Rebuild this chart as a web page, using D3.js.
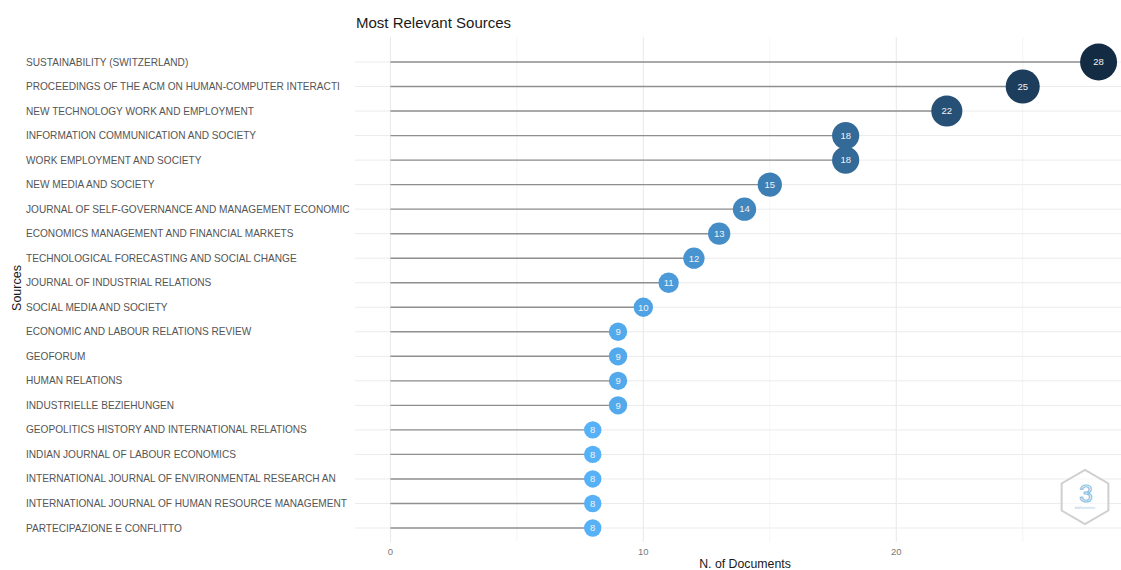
<!DOCTYPE html>
<html>
<head>
<meta charset="utf-8">
<script src="https://cdn.jsdelivr.net/npm/d3@7"></script>
<style>
  html, body { margin: 0; padding: 0; background: #fff; }
  svg { display: block; font-family: "Liberation Sans", Arial, sans-serif; }
</style>
</head>
<body>
<svg id="chart" width="1121" height="570"></svg>
<script>
const sources = [
  "SUSTAINABILITY (SWITZERLAND)",
  "PROCEEDINGS OF THE ACM ON HUMAN-COMPUTER INTERACTI",
  "NEW TECHNOLOGY WORK AND EMPLOYMENT",
  "INFORMATION COMMUNICATION AND SOCIETY",
  "WORK EMPLOYMENT AND SOCIETY",
  "NEW MEDIA AND SOCIETY",
  "JOURNAL OF SELF-GOVERNANCE AND MANAGEMENT ECONOMIC",
  "ECONOMICS MANAGEMENT AND FINANCIAL MARKETS",
  "TECHNOLOGICAL FORECASTING AND SOCIAL CHANGE",
  "JOURNAL OF INDUSTRIAL RELATIONS",
  "SOCIAL MEDIA AND SOCIETY",
  "ECONOMIC AND LABOUR RELATIONS REVIEW",
  "GEOFORUM",
  "HUMAN RELATIONS",
  "INDUSTRIELLE BEZIEHUNGEN",
  "GEOPOLITICS HISTORY AND INTERNATIONAL RELATIONS",
  "INDIAN JOURNAL OF LABOUR ECONOMICS",
  "INTERNATIONAL JOURNAL OF ENVIRONMENTAL RESEARCH AN",
  "INTERNATIONAL JOURNAL OF HUMAN RESOURCE MANAGEMENT",
  "PARTECIPAZIONE E CONFLITTO"
];
const documents = [28, 25, 22, 18, 18, 15, 14, 13, 12, 11, 10, 9, 9, 9, 9, 8, 8, 8, 8, 8];
const xMajorTicks = [0, 10, 20];
const xMinorTicks = [5, 15, 25];
const titleText = "Most Relevant Sources";
const xTitle = "N. of Documents";
const yTitle = "Sources";

const svg = d3.select("#chart");
const panel = { left: 355, right: 1134, top: 37, bottom: 542 };

const x = d3.scaleLinear().domain([-1.4, 29.4]).range([panel.left, panel.right]);
const y = d3.scalePoint().domain(sources).range([62, 528]);
const minV = d3.min(documents), maxV = d3.max(documents);
const r = d3.scaleLinear().domain([minV, maxV]).range([8.7, 18.5]);
const color = d3.scaleLinear().domain([minV, maxV]).range(["#56B1F7", "#132B43"]).interpolate(d3.interpolateLab);

const data = sources.map((s, i) => ({ s, v: documents[i] }));

svg.append("defs").append("clipPath").attr("id", "clip")
  .append("rect").attr("x", panel.left).attr("y", panel.top)
  .attr("width", panel.right - panel.left).attr("height", panel.bottom - panel.top);

const g = svg.append("g").attr("clip-path", "url(#clip)");

g.selectAll("line.minor").data(xMinorTicks).join("line")
  .attr("x1", d => x(d)).attr("x2", d => x(d))
  .attr("y1", panel.top).attr("y2", panel.bottom)
  .attr("stroke", "#f3f3f3").attr("stroke-width", 0.8);
g.selectAll("line.major").data(xMajorTicks).join("line")
  .attr("x1", d => x(d)).attr("x2", d => x(d))
  .attr("y1", panel.top).attr("y2", panel.bottom)
  .attr("stroke", "#e8e8e8").attr("stroke-width", 1);
g.selectAll("line.hgrid").data(sources).join("line")
  .attr("x1", panel.left).attr("x2", panel.right)
  .attr("y1", d => y(d)).attr("y2", d => y(d))
  .attr("stroke", "#ebebeb").attr("stroke-width", 1);

g.selectAll("line.stem").data(data).join("line")
  .attr("x1", x(0)).attr("x2", d => x(d.v))
  .attr("y1", d => y(d.s)).attr("y2", d => y(d.s))
  .attr("stroke", "#8f8f8f").attr("stroke-width", 1.4);

g.selectAll("circle.pt").data(data).join("circle")
  .attr("cx", d => x(d.v)).attr("cy", d => y(d.s))
  .attr("r", d => r(d.v))
  .attr("fill", d => color(d.v));

g.selectAll("text.pl").data(data).join("text")
  .attr("x", d => x(d.v)).attr("y", d => y(d.s))
  .attr("dy", "0.35em")
  .attr("text-anchor", "middle")
  .attr("font-size", 9.5)
  .attr("fill", "#f2f2f2")
  .text(d => d.v);

svg.selectAll("text.ylab").data(sources).join("text")
  .attr("x", 26).attr("y", d => y(d)).attr("dy", "0.35em")
  .attr("font-size", 10.1)
  .attr("fill", "#555555")
  .text(d => d);

svg.selectAll("text.xlab").data(xMajorTicks).join("text")
  .attr("x", d => x(d)).attr("y", 555)
  .attr("text-anchor", "middle")
  .attr("font-size", 9.5)
  .attr("fill", "#7a7a7a")
  .text(d => d);

svg.append("text").attr("x", 356).attr("y", 28)
  .attr("font-size", 15).attr("fill", "#1a1a1a").text(titleText);
svg.append("text").attr("x", 745).attr("y", 568)
  .attr("text-anchor", "middle").attr("font-size", 12.3)
  .attr("fill", "#1a1a1a").text(xTitle);
svg.append("text")
  .attr("transform", `translate(21,288) rotate(-90)`)
  .attr("text-anchor", "middle").attr("font-size", 12.5)
  .attr("fill", "#1a1a1a").text(yTitle);

// watermark logo
const cx = 1085, cy = 497, hr = 27;
const hex = d3.range(6).map(i => {
  const a = Math.PI / 6 + i * Math.PI / 3;
  return [cx + hr * Math.cos(a), cy + hr * Math.sin(a)];
});
svg.append("polygon")
  .attr("points", hex.map(p => p.join(",")).join(" "))
  .attr("fill", "rgba(255,255,255,0.6)").attr("stroke", "#cfcfcf").attr("stroke-width", 2);
svg.append("text").attr("x", cx + 1).attr("y", cy + 5)
  .attr("text-anchor", "middle").attr("font-size", 24)
  .attr("fill", "none").attr("stroke", "#8cc3e3").attr("stroke-width", 1.2)
  .text("3");
svg.append("text").attr("x", cx).attr("y", cy + 12)
  .attr("text-anchor", "middle").attr("font-size", 4)
  .attr("fill", "#9fcbe6").text("bibliometrix");
</script>
</body>
</html>
